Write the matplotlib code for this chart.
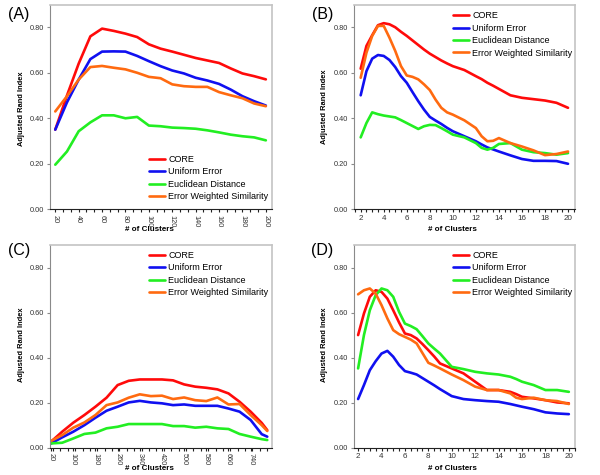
import numpy as np
import matplotlib
matplotlib.use('Agg')
import matplotlib.pyplot as plt
from matplotlib.ticker import MultipleLocator

plt.rcParams['font.family'] = ['Liberation Sans', 'DejaVu Sans']

names = ['CORE', 'Uniform Error', 'Euclidean Distance', 'Error Weighted Similarity']
colors = ['#ff0a0a', '#1010f0', '#22ee22', '#ff6a10']

# Panel A
xa = [20, 30, 40, 50, 60, 70, 80, 90, 100, 110, 120, 130, 140, 150, 160, 170, 180, 190, 200]
a_core = [.35, .50, .64, .76, .794, .784, .772, .757, .725, .706, .693, .679, .665, .654, .643, .619, .597, .585, .571]
a_unif = [.35, .47, .57, .66, .693, .694, .693, .674, .651, .629, .61, .597, .578, .566, .551, .526, .497, .475, .456]
a_eucl = [.196, .254, .343, .382, .413, .413, .40, .406, .368, .365, .359, .357, .354, .347, .338, .328, .321, .316, .303]
a_ews = [.43, .497, .57, .625, .63, .622, .615, .60, .582, .576, .549, .541, .538, .538, .515, .501, .488, .465, .453]

# Panel B
xb = [2, 2.5, 3, 3.5, 4, 4.5, 5, 5.5, 6, 6.5, 7, 7.5, 8, 8.5, 9, 9.5, 10, 11, 12, 12.5, 13, 13.5, 14, 15, 16, 17, 18, 19, 20]
b_core = [.618, .718, .765, .809, .818, .813, .80, .78, .762, .742, .722, .702, .684, .669, .654, .641, .629, .612, .585, .572, .556, .543, .529, .501, .49, .484, .478, .468, .446]
b_unif = [.501, .607, .662, .678, .674, .656, .625, .585, .556, .515, .475, .438, .406, .39, .375, .358, .343, .321, .299, .285, .272, .263, .254, .237, .221, .213, .213, .212, .20]
b_eucl = [.316, .379, .426, .418, .412, .408, .404, .392, .379, .366, .353, .365, .371, .37, .357, .343, .328, .316, .291, .27, .262, .27, .287, .291, .262, .251, .247, .24, .247]
b_ews = [.578, .688, .762, .806, .806, .754, .696, .629, .588, .582, .571, .549, .524, .482, .446, .426, .416, .391, .357, .321, .299, .301, .313, .291, .276, .259, .238, .243, .254]

# Panel C
xc = [20, 60, 100, 140, 180, 220, 260, 300, 340, 380, 420, 460, 500, 540, 580, 620, 660, 700, 740, 780, 800]
c_core = [.027, .071, .111, .145, .182, .222, .278, .297, .303, .303, .303, .299, .281, .271, .266, .259, .241, .204, .16, .11, .078]
c_unif = [.019, .046, .071, .10, .133, .164, .182, .201, .208, .201, .197, .189, .192, .186, .186, .186, .174, .16, .123, .06, .049]
c_eucl = [.019, .022, .041, .061, .067, .086, .093, .105, .105, .105, .105, .096, .096, .089, .093, .086, .083, .061, .049, .038, .034]
c_ews = [.03, .056, .089, .112, .145, .189, .201, .222, .237, .229, .231, .216, .223, .211, .207, .223, .192, .194, .145, .10, .074]

# Panel D
xd = [2, 2.5, 3, 3.5, 4, 4.5, 5, 5.5, 6, 6.5, 7, 7.5, 8, 8.5, 9, 10, 11, 12, 13, 14, 15, 15.5, 16, 17, 18, 19, 20]
d_core = [.50, .596, .67, .699, .692, .662, .61, .556, .507, .50, .485, .46, .433, .405, .374, .352, .33, .293, .256, .256, .248, .238, .226, .219, .211, .201, .197]
d_unif = [.216, .278, .344, .384, .418, .43, .404, .367, .34, .333, .325, .309, .293, .277, .26, .229, .216, .211, .207, .204, .194, .188, .182, .171, .157, .152, .149]
d_eucl = [.352, .50, .61, .677, .707, .699, .67, .603, .551, .54, .526, .495, .463, .44, .418, .359, .349, .337, .33, .325, .315, .305, .293, .278, .256, .256, .248]
d_ews = [.681, .699, .707, .684, .633, .574, .522, .504, .492, .48, .463, .42, .377, .365, .352, .325, .30, .271, .256, .256, .241, .222, .216, .222, .211, .207, .194]

W, H = 600, 475
fig = plt.figure(figsize=(6, 4.75), dpi=100)


def px(x0, y0, x1, y1):
    return [x0 / W, 1 - y1 / H, (x1 - x0) / W, (y1 - y0) / H]


def panel(rect, x, series, xlim, major, minor, rot, tag, tagpos, legpos, xlab, ylab):
    ax = fig.add_axes(px(*rect))
    for ys, c, n in zip(series, colors, names):
        ax.plot(x, ys, color=c, lw=1.9, label=n, solid_joinstyle='round', solid_capstyle='round')
    ax.set_xlim(*xlim)
    ax.set_ylim(0, 0.9)
    ax.set_yticks([0, 0.2, 0.4, 0.6, 0.8])
    ax.set_yticklabels(['0.00', '0.20', '0.40', '0.60', '0.80'])
    ax.set_xticks(major)
    ax.xaxis.set_minor_locator(MultipleLocator(minor))
    for s in ['top', 'right']:
        ax.spines[s].set_color('#c4c4c4')
        ax.spines[s].set_linewidth(1.2)
    ax.spines['left'].set_color('#8a8a8a')
    ax.spines['bottom'].set_color('#222222')
    ax.tick_params(axis='y', length=2.5, width=0.8, pad=2, labelsize=5.3, colors='#8a8a8a', labelcolor='#333333')
    ax.tick_params(axis='x', which='both', length=2.5, width=0.8, pad=1.5, labelsize=5.8 if rot == 0 else 5.3,
                   colors='#222222', labelcolor='#333333', labelrotation=-90 if rot else 0)
    ax.legend(loc='center left', bbox_to_anchor=(legpos[0] / W, 1 - legpos[1] / H), bbox_transform=fig.transFigure,
              frameon=False, fontsize=6.5, handlelength=1.8, handletextpad=0.35, labelspacing=0.38,
              borderpad=0, borderaxespad=0)
    fig.text(tagpos[0] / W, 1 - tagpos[1] / H, tag, fontsize=11.5, ha='center', va='center')
    fig.text(xlab[0] / W, 1 - xlab[1] / H, '# of Clusters', fontsize=5.8, fontweight='bold', ha='center', va='center')
    fig.text(ylab[0] / W, 1 - ylab[1] / H, 'Adjusted Rand Index', fontsize=5.4, fontweight='bold',
             rotation=90, ha='center', va='center')
    return ax


panel((50, 4.5, 271.7, 209.3), xa, [a_core, a_unif, a_eucl, a_ews], (15.5, 205),
      list(range(20, 201, 20)), 20 / 3, True, '(A)', (19, 14), (149, 178), (149, 230), (21.5, 109))
panel((354, 4.5, 574.7, 209.3), xb, [b_core, b_unif, b_eucl, b_ews], (1.42, 20.58),
      list(range(2, 21, 2)), 0.5, False, '(B)', (322.5, 14), (453, 34.5), (452, 230), (325, 107))
panel((50, 245, 271.7, 447.7), xc, [c_core, c_unif, c_eucl, c_ews], (16, 816),
      list(range(20, 741, 80)), 80 / 3, True, '(C)', (19, 251), (149, 274), (149, 469), (21.5, 345))
panel((354, 245, 574.7, 447.7), xd, [d_core, d_unif, d_eucl, d_ews], (1.65, 20.5),
      list(range(2, 21, 2)), 0.5, False, '(D)', (322.5, 251), (453, 274), (452, 469), (325, 345))

fig.savefig('out.png', dpi=100)
